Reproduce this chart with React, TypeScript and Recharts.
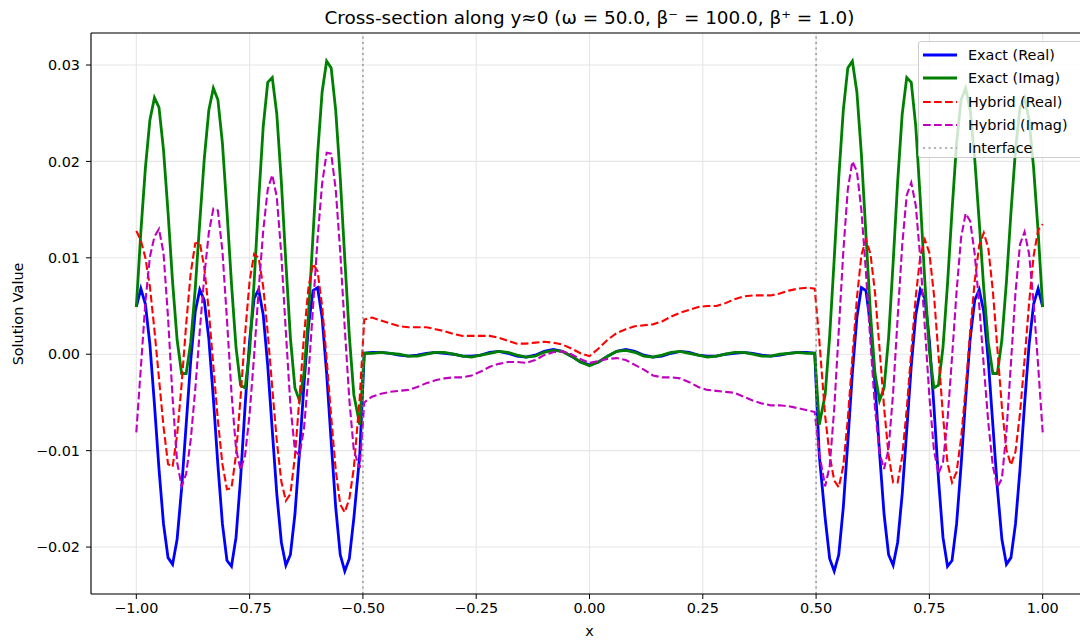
import React from 'react';
import {
  LineChart, Line, XAxis, YAxis, CartesianGrid, ReferenceLine,
} from 'recharts';

// sample positions (left band, middle band, right band)
const X_SAMPLES = [
  -1, -0.99, -0.98, -0.97, -0.96, -0.95, -0.94, -0.93, -0.92, -0.91,
  -0.9, -0.89, -0.88, -0.87, -0.86, -0.85, -0.84, -0.83, -0.82, -0.81,
  -0.8, -0.79, -0.78, -0.77, -0.76, -0.75, -0.74, -0.73, -0.72, -0.71,
  -0.7, -0.69, -0.68, -0.67, -0.66, -0.65, -0.64, -0.63, -0.62, -0.61,
  -0.6, -0.59, -0.58, -0.57, -0.56, -0.55, -0.54, -0.53, -0.52, -0.507,
  -0.497, -0.48, -0.46, -0.44, -0.42, -0.4, -0.38, -0.36, -0.34, -0.32,
  -0.3, -0.28, -0.26, -0.24, -0.22, -0.2, -0.18, -0.16, -0.14, -0.12,
  -0.1, -0.08, -0.06, -0.04, -0.02, 0, 0.02, 0.04, 0.06, 0.08,
  0.1, 0.12, 0.14, 0.16, 0.18, 0.2, 0.22, 0.24, 0.26, 0.28,
  0.3, 0.32, 0.34, 0.36, 0.38, 0.4, 0.42, 0.44, 0.46, 0.48, 0.497,
  0.507, 0.52, 0.53, 0.54, 0.55, 0.56, 0.57, 0.58, 0.59, 0.6,
  0.61, 0.62, 0.63, 0.64, 0.65, 0.66, 0.67, 0.68, 0.69, 0.7,
  0.71, 0.72, 0.73, 0.74, 0.75, 0.76, 0.77, 0.78, 0.79, 0.8,
  0.81, 0.82, 0.83, 0.84, 0.85, 0.86, 0.87, 0.88, 0.89, 0.9,
  0.91, 0.92, 0.93, 0.94, 0.95, 0.96, 0.97, 0.98, 0.99, 1,
];

const EXACT_REAL = [
  0.0049, 0.0068, 0.0052, 0.0010, -0.0052, -0.0119, -0.0176, -0.0211, -0.0218, -0.0192,
  -0.0139, -0.0073, -0.0007, 0.0044, 0.0067, 0.0056, 0.0016, -0.0046, -0.0115, -0.0176,
  -0.0214, -0.0220, -0.0190, -0.0129, -0.0054, 0.0014, 0.0058, 0.0067, 0.0041, -0.0012,
  -0.0079, -0.0145, -0.0195, -0.0219, -0.0208, -0.0166, -0.0102, -0.0031, 0.0030, 0.0066,
  0.0069, 0.0038, -0.0020, -0.0091, -0.0159, -0.0208, -0.0225, -0.0212, -0.0170, -0.0105,
  0.0001, 0.0002, 0.0002, 0.0001, -0.0001, -0.0002, -0.0001, 0.0001, 0.0002, 0.0001,
  0.0000, -0.0002, -0.0002, -0.0001, 0.0002, 0.0003, 0.0001, -0.0002, -0.0003, -0.0001,
  0.0003, 0.0005, 0.0003, -0.0002, -0.0008, -0.0011, -0.0008, -0.0002, 0.0003, 0.0005,
  0.0003, -0.0001, -0.0003, -0.0002, 0.0001, 0.0003, 0.0002, -0.0001, -0.0002, -0.0002,
  0.0000, 0.0001, 0.0002, 0.0001, -0.0001, -0.0002, -0.0001, 0.0001, 0.0002, 0.0002, 0.0001,
  -0.0105, -0.0170, -0.0212, -0.0225, -0.0208, -0.0159, -0.0091, -0.0020, 0.0038, 0.0069,
  0.0066, 0.0030, -0.0031, -0.0102, -0.0166, -0.0208, -0.0219, -0.0195, -0.0145, -0.0079,
  -0.0012, 0.0041, 0.0067, 0.0058, 0.0014, -0.0054, -0.0129, -0.0190, -0.0220, -0.0214,
  -0.0176, -0.0115, -0.0046, 0.0016, 0.0056, 0.0067, 0.0044, -0.0007, -0.0073, -0.0139,
  -0.0192, -0.0218, -0.0211, -0.0176, -0.0119, -0.0052, 0.0010, 0.0052, 0.0068, 0.0049,
];

const EXACT_IMAG = [
  0.0049, 0.0127, 0.0193, 0.0243, 0.0266, 0.0256, 0.0212, 0.0147, 0.0075, 0.0015,
  -0.0020, -0.0020, 0.0012, 0.0068, 0.0137, 0.0203, 0.0253, 0.0276, 0.0264, 0.0219,
  0.0149, 0.0073, 0.0007, -0.0032, -0.0035, 0.0003, 0.0075, 0.0160, 0.0236, 0.0282,
  0.0287, 0.0249, 0.0179, 0.0095, 0.0017, -0.0035, -0.0048, -0.0020, 0.0042, 0.0124,
  0.0207, 0.0272, 0.0304, 0.0297, 0.0253, 0.0183, 0.0099, 0.0019, -0.0042, -0.0073,
  0.0001, 0.0001, 0.0002, 0.0001, 0.0000, -0.0002, -0.0002, 0.0000, 0.0002, 0.0002,
  0.0000, -0.0002, -0.0003, -0.0001, 0.0001, 0.0003, 0.0002, -0.0001, -0.0003, -0.0002,
  0.0002, 0.0004, 0.0003, -0.0002, -0.0008, -0.0012, -0.0008, -0.0002, 0.0003, 0.0004,
  0.0002, -0.0002, -0.0003, -0.0001, 0.0002, 0.0003, 0.0001, -0.0001, -0.0003, -0.0002,
  0.0000, 0.0002, 0.0002, 0.0000, -0.0002, -0.0002, 0.0000, 0.0001, 0.0002, 0.0001, 0.0001,
  -0.0073, -0.0042, 0.0019, 0.0099, 0.0183, 0.0253, 0.0297, 0.0304, 0.0272, 0.0207,
  0.0124, 0.0042, -0.0020, -0.0048, -0.0035, 0.0017, 0.0095, 0.0179, 0.0249, 0.0287,
  0.0282, 0.0236, 0.0160, 0.0075, 0.0003, -0.0035, -0.0032, 0.0007, 0.0073, 0.0149,
  0.0219, 0.0264, 0.0276, 0.0253, 0.0203, 0.0137, 0.0068, 0.0012, -0.0020, -0.0020,
  0.0015, 0.0075, 0.0147, 0.0212, 0.0256, 0.0266, 0.0243, 0.0193, 0.0127, 0.0049,
];

const HYBRID_REAL = [
  0.0128, 0.0118, 0.0100, 0.0070, 0.0025, -0.0025, -0.0075, -0.0114, -0.0117, -0.0084,
  -0.0031, 0.0031, 0.0084, 0.0115, 0.0116, 0.0090, 0.0045, -0.0012, -0.0069, -0.0114,
  -0.0140, -0.0139, -0.0104, -0.0045, 0.0021, 0.0076, 0.0104, 0.0100, 0.0070, 0.0022,
  -0.0035, -0.0090, -0.0132, -0.0152, -0.0145, -0.0106, -0.0045, 0.0019, 0.0070, 0.0094,
  0.0086, 0.0050, -0.0005, -0.0065, -0.0120, -0.0156, -0.0164, -0.0150, -0.0118, -0.0045,
  0.0036, 0.0038, 0.0035, 0.0032, 0.0029, 0.0028, 0.0028, 0.0028, 0.0026, 0.0024,
  0.0021, 0.0019, 0.0019, 0.0019, 0.0019, 0.0017, 0.0014, 0.0011, 0.0011, 0.0012,
  0.0013, 0.0012, 0.0010, 0.0006, 0.0001, -0.0002, 0.0006, 0.0015, 0.0022, 0.0026,
  0.0029, 0.0030, 0.0031, 0.0034, 0.0039, 0.0043, 0.0046, 0.0049, 0.0050, 0.0050,
  0.0053, 0.0057, 0.0060, 0.0061, 0.0061, 0.0061, 0.0063, 0.0066, 0.0068, 0.0069, 0.0068,
  0.0015, -0.0064, -0.0105, -0.0131, -0.0138, -0.0116, -0.0067, -0.0004, 0.0058, 0.0103,
  0.0119, 0.0104, 0.0064, 0.0006, -0.0055, -0.0105, -0.0133, -0.0133, -0.0106, -0.0057,
  0.0003, 0.0060, 0.0102, 0.0119, 0.0105, 0.0062, 0.0000, -0.0064, -0.0113, -0.0133,
  -0.0122, -0.0087, -0.0036, 0.0023, 0.0076, 0.0113, 0.0126, 0.0110, 0.0066, 0.0006,
  -0.0055, -0.0099, -0.0115, -0.0101, -0.0061, -0.0006, 0.0053, 0.0102, 0.0129, 0.0135,
];

const HYBRID_IMAG = [
  -0.0081, -0.0014, 0.0054, 0.0101, 0.0122, 0.0130, 0.0105, 0.0038, -0.0045, -0.0112,
  -0.0137, -0.0124, -0.0089, -0.0037, 0.0024, 0.0081, 0.0126, 0.0151, 0.0149, 0.0107,
  0.0036, -0.0040, -0.0098, -0.0120, -0.0105, -0.0062, -0.0001, 0.0067, 0.0128, 0.0171,
  0.0186, 0.0163, 0.0103, 0.0023, -0.0053, -0.0100, -0.0105, -0.0077, -0.0021, 0.0049,
  0.0120, 0.0177, 0.0209, 0.0208, 0.0171, 0.0106, 0.0027, -0.0047, -0.0100, -0.0118,
  -0.0050, -0.0044, -0.0041, -0.0039, -0.0038, -0.0037, -0.0034, -0.0030, -0.0027, -0.0025,
  -0.0024, -0.0024, -0.0022, -0.0018, -0.0013, -0.0010, -0.0008, -0.0008, -0.0009, -0.0006,
  -0.0001, 0.0002, 0.0003, 0.0000, -0.0005, -0.0009, -0.0007, -0.0005, -0.0004, -0.0006,
  -0.0011, -0.0016, -0.0022, -0.0024, -0.0024, -0.0025, -0.0029, -0.0034, -0.0037, -0.0038,
  -0.0039, -0.0040, -0.0044, -0.0048, -0.0051, -0.0053, -0.0053, -0.0054, -0.0056, -0.0058, -0.0060,
  -0.0103, -0.0137, -0.0116, -0.0057, 0.0024, 0.0106, 0.0171, 0.0200, 0.0190, 0.0149,
  0.0085, 0.0012, -0.0056, -0.0102, -0.0119, -0.0098, -0.0040, 0.0038, 0.0113, 0.0165,
  0.0178, 0.0154, 0.0099, 0.0028, -0.0044, -0.0099, -0.0124, -0.0112, -0.0068, -0.0003,
  0.0065, 0.0121, 0.0146, 0.0138, 0.0104, 0.0051, -0.0012, -0.0071, -0.0116, -0.0138,
  -0.0129, -0.0081, -0.0009, 0.0064, 0.0114, 0.0127, 0.0104, 0.0053, -0.0012, -0.0081,
];

const X_TICKS = [-1, -0.75, -0.5, -0.25, 0, 0.25, 0.5, 0.75, 1];
const Y_TICKS = [-0.02, -0.01, 0, 0.01, 0.02, 0.03];
const INTERFACES = [-0.5, 0.5];
const Y_MIN = -0.02487;
const Y_MAX = 0.03332;

const TITLE = 'Cross-section along y\u22480 (\u03c9 = 50.0, \u03b2\u207b = 100.0, \u03b2\u207a = 1.0)';

const SERIES = [
  { key: 'er', name: 'Exact (Real)', color: '#0000ff', width: 2.8, dash: undefined },
  { key: 'ei', name: 'Exact (Imag)', color: '#008000', width: 2.8, dash: undefined },
  { key: 'hr', name: 'Hybrid (Real)', color: '#ff0000', width: 2.1, dash: '7.7 3.3' },
  { key: 'hi', name: 'Hybrid (Imag)', color: '#bf00bf', width: 2.1, dash: '7.7 3.3' },
];

const FONT = '"DejaVu Sans", "Liberation Sans", sans-serif';
const DOT = '2.1 3.4';
const FS = 14.4;

const fmt = (v: number) => (v < 0 ? '\u2212' : '') + Math.abs(v).toFixed(2);

const rows = X_SAMPLES.map((x, i) => ({
  x,
  er: EXACT_REAL[i],
  ei: EXACT_IMAG[i],
  hr: HYBRID_REAL[i],
  hi: HYBRID_IMAG[i],
}));

const tickStyle = { fill: '#000', fontSize: FS, fontFamily: FONT };

const App = () => {
  return (
    <div style={{ position: 'absolute', left: 0, top: 0, width: 1080, height: 641, overflow: 'hidden', background: '#fff', fontFamily: FONT }}>
      <div style={{ position: 'absolute', left: 91, top: 7, width: 997, textAlign: 'center', fontSize: 18.4, lineHeight: '22px', color: '#000' }}>
        {TITLE}
      </div>

      <div style={{ position: 'absolute', left: -82, top: 303.5, width: 200, height: 20, lineHeight: '20px', textAlign: 'center', fontSize: FS, color: '#000', transform: 'rotate(-90deg)' }}>
        Solution Value
      </div>

      <LineChart width={1100} height={641} data={rows} margin={{ top: 33, right: 12, bottom: 0, left: 0 }}>
        <CartesianGrid stroke="#e6e6e6" strokeWidth={1.1} />
        <XAxis
          dataKey="x"
          type="number"
          domain={[-1.1, 1.1]}
          allowDataOverflow
          ticks={X_TICKS}
          interval={0}
          tickFormatter={fmt}
          tick={tickStyle}
          tickSize={5}
          tickMargin={4}
          tickLine={{ stroke: '#000' }}
          axisLine={{ stroke: '#000', strokeWidth: 1.1 }}
          height={47}
          label={{ value: 'x', position: 'insideBottom', offset: 5, fill: '#000', fontSize: FS, fontFamily: FONT }}
        />
        <YAxis
          type="number"
          domain={[Y_MIN, Y_MAX]}
          allowDataOverflow
          ticks={Y_TICKS}
          interval={0}
          tickFormatter={fmt}
          tick={tickStyle}
          tickSize={5}
          tickMargin={6}
          tickLine={{ stroke: '#000' }}
          axisLine={{ stroke: '#000', strokeWidth: 1.1 }}
          width={91}
        />
        {SERIES.map(s => (
          <Line
            key={s.key}
            type="linear"
            dataKey={s.key}
            name={s.name}
            stroke={s.color}
            strokeWidth={s.width}
            strokeDasharray={s.dash}
            dot={false}
            activeDot={false}
            isAnimationActive={false}
          />
        ))}
        {INTERFACES.map(v => (
          <ReferenceLine key={v} x={v} stroke="#808080" strokeOpacity={0.8} strokeWidth={1.5} strokeDasharray={DOT} />
        ))}
        {/* top spine of the axes frame */}
        <ReferenceLine y={Y_MAX} stroke="#000" strokeWidth={1.1} />
      </LineChart>

      {/* legend, upper right, partly cut off like the original */}
      <div style={{ position: 'absolute', left: 918, top: 41, width: 166, height: 117, boxSizing: 'border-box', border: '1px solid #cccccc', borderRadius: 3, background: 'rgba(255,255,255,0.8)', paddingTop: 1.5 }}>
        {[...SERIES, { key: 'if', name: 'Interface', color: '#808080', width: 1.5, dash: DOT }].map(s => (
          <div key={s.key} style={{ height: 23.3, display: 'flex', alignItems: 'center' }}>
            <svg width={34} height={10} style={{ marginLeft: 4, flex: 'none' }}>
              <line x1={0} y1={5} x2={34} y2={5} stroke={s.color} strokeWidth={s.width} strokeDasharray={s.dash} strokeOpacity={s.key === 'if' ? 0.8 : 1} />
            </svg>
            <span style={{ marginLeft: 11, fontSize: FS, color: '#000', whiteSpace: 'nowrap' }}>{s.name}</span>
          </div>
        ))}
      </div>
    </div>
  );
};

export default App;
